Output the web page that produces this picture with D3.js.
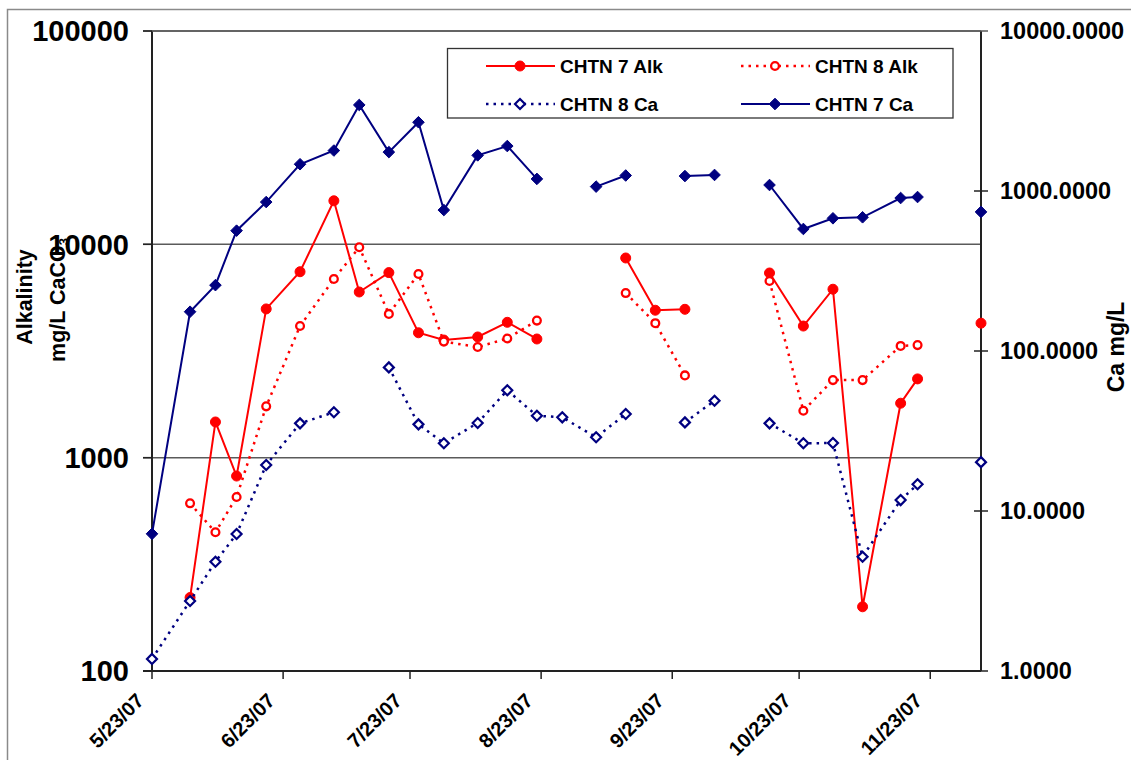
<!DOCTYPE html>
<html>
<head>
<meta charset="utf-8">
<script src="https://cdn.jsdelivr.net/npm/d3@7"></script>
<style>
  body { margin: 0; background: #fff; }
  svg { display: block; font-family: Arial, "Liberation Sans", sans-serif; font-weight: bold; }
</style>
</head>
<body>
<svg id="chart" width="1131" height="760"></svg>
<script>
// sample dates (blank rows in the sheet give the gaps)
const dates = ['5/23/07', '6/1/07', '6/7/07', '6/12/07', '6/19/07', '6/27/07', '7/5/07', '7/11/07',
  '7/18/07', '7/25/07', '7/31/07', '8/8/07', '8/15/07', '8/22/07', '8/28/07', '9/5/07', '9/12/07',
  '9/19/07', '9/26/07', '10/3/07', '10/10/07', '10/16/07', '10/24/07', '10/31/07', '11/7/07',
  '11/16/07', '11/20/07', '11/28/07', '12/5/07'];

// alkalinity, mg/L CaCO3 (left axis)
const chtn7Alk = [null, 221, 1470, 820, 4980, 7440, 16000, 5980, 7370, 3850, 3560, 3680, 4310, 3600,
  null, null, 8630, 4910, 4960, null, null, 7340, 4140, 6160, 200, 1800, 2340, null, 4270];
const chtn8Alk = [null, 611, 447, 654, 1740, 4140, 6880, 9690, 4720, 7260, 3500, 3300, 3620, 4390,
  null, null, 5910, 4270, 2430, null, null, 6730, 1660, 2310, 2310, 3340, 3370, null, null];

// calcium, mg/L (right axis)
const chtn8Ca = [1.19, 2.74, 4.82, 7.18, 19.4, 35.3, 41.4, null, 79, 34.8, 26.5, 35.5, 56.8, 39.4,
  38.5, 28.9, 40.4, null, 35.8, 48.9, null, 35.3, 26.5, 26.6, 5.18, 11.7, 14.7, null, 20.2];
const chtn7Ca = [7.2, 176, 258, 565, 853, 1470, 1790, 3450, 1750, 2690, 760, 1670, 1910, 1190,
  null, 1065, 1250, null, 1240, 1260, null, 1090, 579, 675, 685, 904, 917, null, 740];

const dateTicks = ['5/23/07', '6/23/07', '7/23/07', '8/23/07', '9/23/07', '10/23/07', '11/23/07'];
const alkTicks = [100, 1000, 10000, 100000];
const caTicks = [1, 10, 100, 1000, 10000];

const plot = { left: 152, right: 981, top: 31, bottom: 671 };
const red = '#ff0000';
const navy = '#000080';

const parse = d3.utcParse('%m/%d/%y');
const x = d3.scaleUtc()
  .domain([parse(dates[0]), parse(dates[dates.length - 1])])
  .range([plot.left, plot.right]);
const yAlk = d3.scaleLog().domain([100, 100000]).range([plot.bottom, plot.top]);
const yCa = d3.scaleLog().domain([1, 10000]).range([plot.bottom, plot.top]);

const series = [
  { name: 'CHTN 7 Alk', values: chtn7Alk, y: yAlk, color: red, dash: null, shape: 'circle', filled: true },
  { name: 'CHTN 8 Alk', values: chtn8Alk, y: yAlk, color: red, dash: '2.5,5', shape: 'circle', filled: false },
  { name: 'CHTN 8 Ca', values: chtn8Ca, y: yCa, color: navy, dash: '2.5,5', shape: 'diamond', filled: false },
  { name: 'CHTN 7 Ca', values: chtn7Ca, y: yCa, color: navy, dash: null, shape: 'diamond', filled: true }
];

const svg = d3.select('#chart');

// outer frame of the chart object
svg.append('rect')
  .attr('x', 7.5).attr('y', 9.5)
  .attr('width', 1300).attr('height', 900)
  .attr('fill', '#fff')
  .attr('stroke', '#8a8a8a')
  .attr('stroke-width', 1.5);

// gridlines
svg.append('g')
  .selectAll('line')
  .data(alkTicks.slice(1))
  .enter().append('line')
  .attr('x1', plot.left - 9).attr('x2', plot.right)
  .attr('y1', d => yAlk(d)).attr('y2', d => yAlk(d))
  .attr('stroke', '#5a5a5a')
  .attr('stroke-width', 1.5);

// left axis
const leftAxis = svg.append('g');
leftAxis.append('line')
  .attr('x1', plot.left).attr('x2', plot.left)
  .attr('y1', plot.top).attr('y2', plot.bottom)
  .attr('stroke', '#222').attr('stroke-width', 2);
leftAxis.selectAll('line.tick')
  .data(alkTicks)
  .enter().append('line')
  .attr('class', 'tick')
  .attr('x1', plot.left - 9).attr('x2', plot.left)
  .attr('y1', d => yAlk(d)).attr('y2', d => yAlk(d))
  .attr('stroke', '#222').attr('stroke-width', 1.5);
leftAxis.selectAll('text')
  .data(alkTicks)
  .enter().append('text')
  .attr('x', 129)
  .attr('y', d => yAlk(d))
  .attr('dy', '0.36em')
  .attr('text-anchor', 'end')
  .style('font-size', '29px')
  .text(d => d3.format('d')(d));

// right axis
const rightAxis = svg.append('g');
rightAxis.append('line')
  .attr('x1', plot.right).attr('x2', plot.right)
  .attr('y1', plot.top).attr('y2', plot.bottom)
  .attr('stroke', '#222').attr('stroke-width', 2);
rightAxis.selectAll('line.tick')
  .data(caTicks)
  .enter().append('line')
  .attr('class', 'tick')
  .attr('x1', d => (d === 10000 ? plot.left : plot.right - 7)).attr('x2', plot.right + 7)
  .attr('y1', d => yCa(d)).attr('y2', d => yCa(d))
  .attr('stroke', d => (d === 10000 ? '#5a5a5a' : '#222'))
  .attr('stroke-width', 1.5);
rightAxis.selectAll('text')
  .data(caTicks)
  .enter().append('text')
  .attr('x', 1000)
  .attr('y', d => yCa(d))
  .attr('dy', '0.36em')
  .style('font-size', '23.5px')
  .text(d => d3.format('.4f')(d));

// date axis
const bottomAxis = svg.append('g');
bottomAxis.append('line')
  .attr('x1', plot.left - 9).attr('x2', plot.right)
  .attr('y1', plot.bottom).attr('y2', plot.bottom)
  .attr('stroke', '#222').attr('stroke-width', 2);
bottomAxis.selectAll('line.tick')
  .data(dateTicks)
  .enter().append('line')
  .attr('class', 'tick')
  .attr('x1', d => x(parse(d))).attr('x2', d => x(parse(d)))
  .attr('y1', plot.bottom).attr('y2', plot.bottom + 8)
  .attr('stroke', '#222').attr('stroke-width', 1.5);
bottomAxis.selectAll('text')
  .data(dateTicks)
  .enter().append('text')
  .attr('transform', d => `translate(${x(parse(d)) - 7},${plot.bottom + 31}) rotate(-45)`)
  .attr('text-anchor', 'end')
  .style('font-size', '20px')
  .text(d => d);

// axis titles
svg.append('text')
  .attr('transform', 'translate(32,297) rotate(-90)')
  .attr('text-anchor', 'middle')
  .style('font-size', '21.5px')
  .text('Alkalinity');
const leftTitle2 = svg.append('text')
  .attr('transform', 'translate(65,300) rotate(-90)')
  .attr('text-anchor', 'middle')
  .style('font-size', '21.5px');
leftTitle2.append('tspan').text('mg/L CaCO');
leftTitle2.append('tspan').attr('dy', '0.25em').style('font-size', '13px').text('3');

svg.append('text')
  .attr('transform', 'translate(1124,347) rotate(-90)')
  .attr('text-anchor', 'middle')
  .style('font-size', '23px')
  .text('Ca mg/L');

// markers
const marker = (sel, s, size) => {
  if (s.shape === 'circle') {
    sel.append('circle')
      .attr('r', s.filled ? size : size - 1.1)
      .attr('fill', s.filled ? s.color : '#fff')
      .attr('stroke', s.color)
      .attr('stroke-width', s.filled ? 1 : 2.3);
  } else {
    const r = s.filled ? size + 0.8 : size;
    sel.append('path')
      .attr('d', `M0,${-r}L${r},0L0,${r}L${-r},0Z`)
      .attr('fill', s.filled ? s.color : '#fff')
      .attr('stroke', s.color)
      .attr('stroke-width', s.filled ? 1 : 2.2);
  }
};

// series
const points = s => dates.map((d, i) => ({ date: parse(d), v: s.values[i] }));

series.forEach(s => {
  const g = svg.append('g');
  const line = d3.line()
    .defined(d => d.v !== null)
    .x(d => x(d.date))
    .y(d => s.y(d.v));

  g.append('path')
    .datum(points(s))
    .attr('d', line)
    .attr('fill', 'none')
    .attr('stroke', s.color)
    .attr('stroke-width', s.dash ? 2.5 : 2)
    .attr('stroke-dasharray', s.dash);

  g.selectAll('g.pt')
    .data(points(s).filter(d => d.v !== null))
    .enter().append('g')
    .attr('class', 'pt')
    .attr('transform', d => `translate(${x(d.date)},${s.y(d.v)})`)
    .each(function () { marker(d3.select(this), s, 5); });
});

// legend
const legend = svg.append('g');
legend.append('rect')
  .attr('x', 447.5).attr('y', 48.5)
  .attr('width', 505.5).attr('height', 69.5)
  .attr('fill', '#fff')
  .attr('stroke', '#333')
  .attr('stroke-width', 1.3);

const legendPos = [[486, 66], [741, 66], [486, 104], [741, 104]];
series.forEach((s, i) => {
  const [lx, ly] = legendPos[i];
  const item = legend.append('g').attr('transform', `translate(${lx},${ly})`);
  item.append('line')
    .attr('x1', 0).attr('x2', 69)
    .attr('stroke', s.color)
    .attr('stroke-width', s.dash ? 2.5 : 2)
    .attr('stroke-dasharray', s.dash);
  const m = item.append('g').attr('transform', 'translate(34,0)');
  marker(m, s, 5);
  item.append('text')
    .attr('x', 74)
    .attr('y', 0)
    .attr('dy', '0.36em')
    .style('font-size', '19px')
    .text(s.name);
});
</script>
</body>
</html>
